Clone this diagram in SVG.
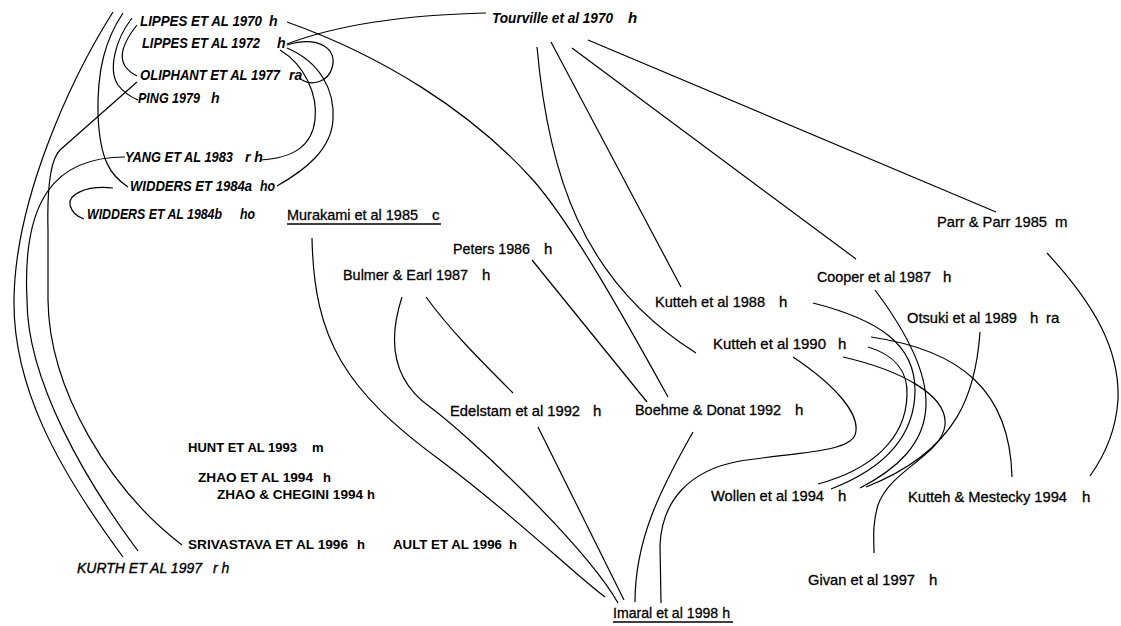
<svg xmlns="http://www.w3.org/2000/svg" width="1121" height="626" viewBox="0 0 1121 626" xml:space="preserve">
<style>
text{fill:#000;font-family:"Liberation Sans",Arial,sans-serif}
.it{font-style:italic;font-weight:bold;font-size:14px}
.tv{font-style:italic;font-weight:bold;font-size:15px}
.up{font-size:15px;stroke:#000;stroke-width:0.3}
.cap{font-weight:bold;font-size:13px}
.ku{font-style:italic;font-size:14px;stroke:#000;stroke-width:0.35}
.ul{stroke:#000;stroke-width:1.3}
#edges path{fill:none;stroke:#000;stroke-width:1.2}
</style>
<rect width="1121" height="626" fill="#fff"/>
<g id="edges">
<path d="M287,22 C380,55 470,110 533,180 C570,222 620,310 668,397"/>
<path d="M287,44 Q360,16 486,13"/>
<path d="M287,45 C320,35 338,50 332,68 C328,82 312,86 302,80"/>
<path d="M280,50 C305,65 318,95 315,120 C312,145 295,158 260,160"/>
<path d="M287,48 C320,62 335,90 333,120 C331,150 305,170 277,186"/>
<path d="M137,25 C125,40 118,55 125,66 C129,72 133,74 137,76"/>
<path d="M132,18 C115,40 108,70 118,85 C124,93 131,97 138,100"/>
<path d="M123,13 C105,40 97,70 98,115 C100,160 110,175 128,187"/>
<path d="M113,12 C70,80 15,200 14,300 C13,385 55,465 123,557"/>
<path d="M125,157 C55,157 22,200 27,300 C27,380 85,480 138,551"/>
<path d="M137,82 L60,150 C50,160 47,190 48,230 L48,300 C49,390 110,490 182,545"/>
<path d="M113,188 C85,185 68,195 70,205 C72,213 78,217 84,219"/>
<path d="M312,238 C314,340 345,390 440,460 C520,520 575,575 605,597"/>
<path d="M402,297 C388,340 392,380 430,407 C468,435 585,545 618,603"/>
<path d="M426,297 C450,330 480,360 513,393"/>
<path d="M538,427 L624,600"/>
<path d="M532,260 L647,402"/>
<path d="M693,432 C660,490 635,540 635,602"/>
<path d="M793,357 C835,385 862,415 855,435 C848,452 800,452 740,461 C690,470 662,500 660,545 L661,603"/>
<path d="M537,47 C548,170 580,280 696,353"/>
<path d="M551,42 L681,287"/>
<path d="M572,48 L856,259"/>
<path d="M588,40 L996,212"/>
<path d="M1047,253 C1095,305 1120,350 1118,400 C1116,430 1105,455 1090,476"/>
<path d="M868,347 C895,355 908,372 907,395 C906,440 870,470 818,484"/>
<path d="M813,303 C880,320 915,345 915,390 C915,440 880,470 831,489"/>
<path d="M875,290 C905,330 927,370 926,405 C925,445 895,470 860,488"/>
<path d="M843,357 C900,370 948,395 945,425 C942,455 890,470 878,505 C872,525 874,540 874,553"/>
<path d="M980,332 C976,390 960,450 866,487"/>
<path d="M871,337 C960,350 1010,390 1012,477"/>
</g>
<g id="n-lippes1970"><text class="it" x="140" y="26" textLength="122" lengthAdjust="spacingAndGlyphs">LIPPES ET AL 1970</text><text class="it" x="269" y="26">h</text></g>
<g id="n-lippes1972"><text class="it" x="142" y="48" textLength="118" lengthAdjust="spacingAndGlyphs">LIPPES ET AL 1972</text><text class="it" x="277" y="48">h</text></g>
<g id="n-oliphant1977"><text class="it" x="140" y="80" textLength="140" lengthAdjust="spacingAndGlyphs">OLIPHANT ET AL 1977</text><text class="it" x="289" y="80">ra</text></g>
<g id="n-ping1979"><text class="it" x="138" y="103" textLength="62" lengthAdjust="spacingAndGlyphs">PING 1979</text><text class="it" x="211" y="103">h</text></g>
<g id="n-yang1983"><text class="it" x="125" y="162" textLength="108" lengthAdjust="spacingAndGlyphs">YANG ET AL 1983</text><text class="it" x="245" y="162">r h</text></g>
<g id="n-widders1984a"><text class="it" x="130" y="191" textLength="122" lengthAdjust="spacingAndGlyphs">WIDDERS ET 1984a</text><text class="it" x="260" y="191" textLength="15" lengthAdjust="spacingAndGlyphs">ho</text></g>
<g id="n-widders1984b"><text class="it" x="87" y="219" textLength="135" lengthAdjust="spacingAndGlyphs">WIDDERS ET AL 1984b</text><text class="it" x="240" y="219" textLength="15" lengthAdjust="spacingAndGlyphs">ho</text></g>
<g id="n-tourville1970"><text class="tv" x="492" y="23" textLength="121" lengthAdjust="spacingAndGlyphs">Tourville et al 1970</text><text class="tv" x="628" y="23">h</text></g>
<g id="n-murakami1985"><text class="up" x="287" y="220" textLength="131" lengthAdjust="spacingAndGlyphs">Murakami et al 1985</text><text class="up" x="432" y="220">c</text><line class="ul" x1="287" y1="224" x2="441" y2="224"/></g>
<g id="n-peters1986"><text class="up" x="453" y="254" textLength="77" lengthAdjust="spacingAndGlyphs">Peters 1986</text><text class="up" x="544" y="254">h</text></g>
<g id="n-bulmer1987"><text class="up" x="343" y="280" textLength="125" lengthAdjust="spacingAndGlyphs">Bulmer &amp; Earl 1987</text><text class="up" x="482" y="280">h</text></g>
<g id="n-parr1985"><text class="up" x="937" y="227" textLength="110" lengthAdjust="spacingAndGlyphs">Parr &amp; Parr 1985</text><text class="up" x="1055" y="227">m</text></g>
<g id="n-cooper1987"><text class="up" x="817" y="282" textLength="114" lengthAdjust="spacingAndGlyphs">Cooper et al 1987</text><text class="up" x="943" y="282">h</text></g>
<g id="n-kutteh1988"><text class="up" x="655" y="307" textLength="110" lengthAdjust="spacingAndGlyphs">Kutteh et al 1988</text><text class="up" x="779" y="307">h</text></g>
<g id="n-otsuki1989"><text class="up" x="907" y="323" textLength="110" lengthAdjust="spacingAndGlyphs">Otsuki et al 1989</text><text class="up" x="1030" y="323">h</text><text class="up" x="1046" y="323">ra</text></g>
<g id="n-kutteh1990"><text class="up" x="713" y="349" textLength="113" lengthAdjust="spacingAndGlyphs">Kutteh et al 1990</text><text class="up" x="838" y="349">h</text></g>
<g id="n-edelstam1992"><text class="up" x="450" y="416" textLength="130" lengthAdjust="spacingAndGlyphs">Edelstam et al 1992</text><text class="up" x="593" y="416">h</text></g>
<g id="n-boehme1992"><text class="up" x="635" y="415" textLength="146" lengthAdjust="spacingAndGlyphs">Boehme &amp; Donat 1992</text><text class="up" x="795" y="415">h</text></g>
<g id="n-hunt1993"><text class="cap" x="188" y="452" textLength="109" lengthAdjust="spacingAndGlyphs">HUNT ET AL 1993</text><text class="cap" x="312" y="452">m</text></g>
<g id="n-zhao1994"><text class="cap" x="198" y="482" textLength="115" lengthAdjust="spacingAndGlyphs">ZHAO ET AL  1994</text><text class="cap" x="323" y="482">h</text></g>
<g id="n-zhaochegini1994"><text class="cap" x="217" y="499" textLength="146" lengthAdjust="spacingAndGlyphs">ZHAO &amp; CHEGINI  1994</text><text class="cap" x="367" y="499">h</text></g>
<g id="n-srivastava1996"><text class="cap" x="188" y="549" textLength="160" lengthAdjust="spacingAndGlyphs">SRIVASTAVA ET AL  1996</text><text class="cap" x="357" y="549">h</text></g>
<g id="n-ault1996"><text class="cap" x="393" y="549" textLength="109" lengthAdjust="spacingAndGlyphs">AULT ET AL 1996</text><text class="cap" x="509" y="549">h</text></g>
<g id="n-kurth1997"><text class="ku" x="77" y="573" textLength="125" lengthAdjust="spacingAndGlyphs">KURTH  ET AL  1997</text><text class="ku" x="213" y="573">r h</text></g>
<g id="n-wollen1994"><text class="up" x="711" y="501" textLength="113" lengthAdjust="spacingAndGlyphs">Wollen et al 1994</text><text class="up" x="838" y="501">h</text></g>
<g id="n-kuttehmestecky1994"><text class="up" x="908" y="502" textLength="159" lengthAdjust="spacingAndGlyphs">Kutteh &amp; Mestecky 1994</text><text class="up" x="1082" y="502">h</text></g>
<g id="n-givan1997"><text class="up" x="808" y="585" textLength="107" lengthAdjust="spacingAndGlyphs">Givan et al 1997</text><text class="up" x="929" y="585">h</text></g>
<g id="n-imaral1998"><text class="up" x="613" y="618" textLength="117" lengthAdjust="spacingAndGlyphs">Imaral et al 1998 h</text><line class="ul" x1="613" y1="622" x2="733" y2="622"/></g>
</svg>
